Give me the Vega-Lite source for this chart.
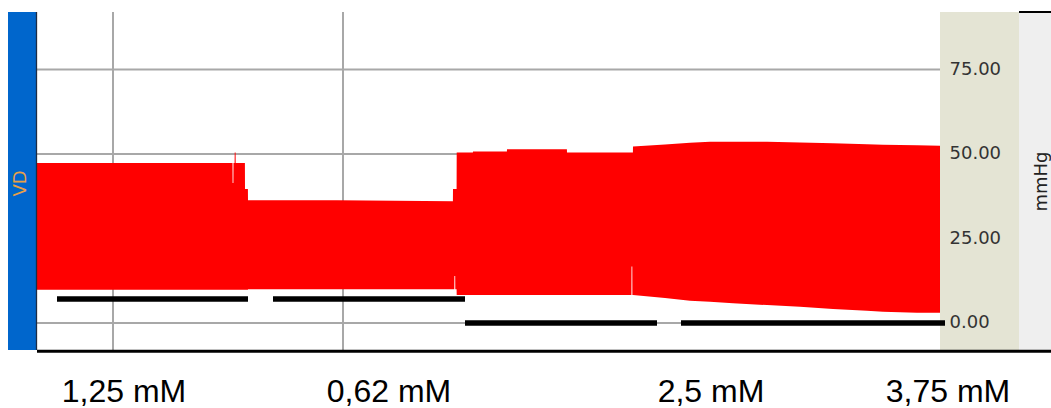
{
  "$schema": "https://vega.github.io/schema/vega-lite/v6.json",
  "width": 903,
  "height": 338,
  "autosize": {"type": "none"},
  "padding": {"left": 37, "top": 12, "right": 111, "bottom": 58},
  "background": "white",
  "config": {
    "view": {"stroke": null},
    "axisY": {
      "orient": "right", "grid": false, "ticks": false, "domain": false,
      "labelFont": "DejaVu Sans", "labelFontSize": 18, "labelColor": "#333333", "labelPadding": 9,
      "titleFont": "DejaVu Sans", "titleFontSize": 18, "titleFontWeight": "normal", "titleColor": "#222222"
    }
  },
  "datasets": {
    "signal": [
      {"t": 0, "hi": 47.3, "lo": 9.8},
      {"t": 195.5, "hi": 47.3, "lo": 9.8},
      {"t": 195.6, "hi": 41.4, "lo": 9.8},
      {"t": 196.4, "hi": 41.4, "lo": 9.8},
      {"t": 196.5, "hi": 47.3, "lo": 9.8},
      {"t": 197.6, "hi": 47.3, "lo": 9.8},
      {"t": 197.7, "hi": 50.4, "lo": 9.8},
      {"t": 198.6, "hi": 50.4, "lo": 9.8},
      {"t": 198.7, "hi": 47.3, "lo": 9.8},
      {"t": 207.9, "hi": 47.3, "lo": 9.8},
      {"t": 208, "hi": 39.6, "lo": 9.8},
      {"t": 210.9, "hi": 39.6, "lo": 9.8},
      {"t": 211, "hi": 36.3, "lo": 10.0},
      {"t": 300, "hi": 36.3, "lo": 10.0},
      {"t": 415.9, "hi": 36.0, "lo": 10.0},
      {"t": 416, "hi": 39.6, "lo": 10.0},
      {"t": 417.3, "hi": 39.6, "lo": 10.0},
      {"t": 417.4, "hi": 39.6, "lo": 13.9},
      {"t": 418.2, "hi": 39.6, "lo": 13.9},
      {"t": 418.3, "hi": 39.6, "lo": 10.0},
      {"t": 419.6, "hi": 39.6, "lo": 10.0},
      {"t": 419.7, "hi": 50.4, "lo": 8.3},
      {"t": 435.9, "hi": 50.4, "lo": 8.3},
      {"t": 436, "hi": 50.7, "lo": 8.3},
      {"t": 469.9, "hi": 50.7, "lo": 8.3},
      {"t": 470, "hi": 51.4, "lo": 8.3},
      {"t": 529.9, "hi": 51.4, "lo": 8.3},
      {"t": 530, "hi": 50.4, "lo": 8.3},
      {"t": 594.4, "hi": 50.4, "lo": 8.3},
      {"t": 594.5, "hi": 50.4, "lo": 16.7},
      {"t": 595.3, "hi": 50.4, "lo": 16.7},
      {"t": 595.4, "hi": 50.4, "lo": 8.3},
      {"t": 595.9, "hi": 50.4, "lo": 8.3},
      {"t": 596, "hi": 52.2, "lo": 8.3},
      {"t": 628, "hi": 52.8, "lo": 7.4},
      {"t": 653, "hi": 53.3, "lo": 6.6},
      {"t": 673, "hi": 53.6, "lo": 6.3},
      {"t": 696, "hi": 53.6, "lo": 5.8},
      {"t": 730, "hi": 53.6, "lo": 5.3},
      {"t": 763, "hi": 53.4, "lo": 4.8},
      {"t": 796, "hi": 53.2, "lo": 4.1},
      {"t": 830, "hi": 52.9, "lo": 3.6},
      {"t": 846, "hi": 52.7, "lo": 3.3},
      {"t": 880, "hi": 52.6, "lo": 3.0},
      {"t": 903, "hi": 52.4, "lo": 3.0}
    ],
    "grid_h": [{"v": 0}, {"v": 25}, {"v": 50}, {"v": 75}],
    "grid_v": [{"t": 76}, {"t": 306}],
    "drugs": [
      {"label": "1,25 mM", "start": 20, "end": 211, "marker": 7.1, "labelT": 87},
      {"label": "0,62 mM", "start": 236, "end": 428, "marker": 7.1, "labelT": 352},
      {"label": "2,5 mM", "start": 428, "end": 620, "marker": 0, "labelT": 674},
      {"label": "3,75 mM", "start": 644, "end": 908, "marker": 0, "labelT": 911}
    ],
    "channel": [{"name": "VD"}]
  },
  "layer": [
    {
      "data": {"values": [{}]},
      "mark": {"type": "rect", "color": "#0066CC"},
      "encoding": {
        "x": {"datum": -29, "type": "quantitative", "scale": {"domain": [0, 903], "nice": false, "zero": false}, "axis": null},
        "x2": {"datum": -0.5}
      }
    },
    {
      "data": {"values": [{}]},
      "mark": {"type": "rect", "color": "#E4E4D4"},
      "encoding": {
        "x": {"datum": 903, "type": "quantitative", "scale": {"domain": [0, 903], "nice": false, "zero": false}, "axis": null},
        "x2": {"datum": 982}
      }
    },
    {
      "data": {"values": [{}]},
      "mark": {"type": "rect", "color": "#EFEFEF"},
      "encoding": {
        "x": {"datum": 982, "type": "quantitative", "scale": {"domain": [0, 903], "nice": false, "zero": false}, "axis": null},
        "x2": {"datum": 1014}
      }
    },
    {
      "data": {"name": "grid_h"},
      "mark": {"type": "rule", "color": "#A8A8A8", "strokeWidth": 2},
      "encoding": {
        "y": {
          "field": "v", "type": "quantitative",
          "scale": {"domain": [-8, 92], "nice": false, "zero": false},
          "axis": {
            "orient": "right", "values": [0, 25, 50, 75], "format": ".2f",
            "title": "mmHg", "titleAngle": 270, "titleX": 101, "titleY": 169,
            "titleAlign": "center", "titleBaseline": "middle", "zindex": 2
          }
        }
      }
    },
    {
      "data": {"name": "grid_v"},
      "mark": {"type": "rule", "color": "#A8A8A8", "strokeWidth": 2},
      "encoding": {
        "x": {"field": "t", "type": "quantitative", "scale": {"domain": [0, 903], "nice": false, "zero": false}, "axis": null}
      }
    },
    {
      "data": {"name": "signal"},
      "mark": {"type": "area", "color": "#FF0000", "interpolate": "linear"},
      "encoding": {
        "x": {"field": "t", "type": "quantitative", "scale": {"domain": [0, 903], "nice": false, "zero": false}, "axis": null},
        "y": {"field": "hi", "type": "quantitative", "scale": {"domain": [-8, 92], "nice": false, "zero": false}},
        "y2": {"field": "lo"}
      }
    },
    {
      "data": {"name": "drugs"},
      "mark": {"type": "rule", "color": "#000000", "strokeWidth": 5.5, "strokeCap": "butt"},
      "encoding": {
        "x": {"field": "start", "type": "quantitative", "scale": {"domain": [0, 903], "nice": false, "zero": false}, "axis": null},
        "x2": {"field": "end"},
        "y": {"field": "marker", "type": "quantitative", "scale": {"domain": [-8, 92], "nice": false, "zero": false}}
      }
    },
    {
      "data": {"values": [{}]},
      "mark": {"type": "rule", "color": "#1C2C44", "strokeWidth": 1.3},
      "encoding": {
        "x": {"datum": -0.5, "type": "quantitative", "scale": {"domain": [0, 903], "nice": false, "zero": false}, "axis": null}
      }
    },
    {
      "data": {"values": [{}]},
      "mark": {"type": "rule", "color": "#000000", "strokeWidth": 3},
      "encoding": {
        "x": {"datum": 0, "type": "quantitative", "scale": {"domain": [0, 903], "nice": false, "zero": false}, "axis": null},
        "x2": {"datum": 1014},
        "y": {"datum": -8.35, "type": "quantitative", "scale": {"domain": [-8, 92], "nice": false, "zero": false}}
      }
    },
    {
      "data": {"values": [{}]},
      "mark": {"type": "rule", "color": "#000000", "strokeWidth": 2},
      "encoding": {
        "x": {"datum": 982, "type": "quantitative", "scale": {"domain": [0, 903], "nice": false, "zero": false}, "axis": null},
        "x2": {"datum": 1014},
        "y": {"datum": 92, "type": "quantitative", "scale": {"domain": [-8, 92], "nice": false, "zero": false}}
      }
    },
    {
      "data": {"name": "channel"},
      "mark": {"type": "text", "font": "DejaVu Sans", "fontSize": 18, "color": "#E8A048", "angle": 270, "align": "center", "baseline": "middle"},
      "encoding": {
        "x": {"datum": -16, "type": "quantitative", "scale": {"domain": [0, 903], "nice": false, "zero": false}, "axis": null},
        "y": {"datum": 41.3, "type": "quantitative", "scale": {"domain": [-8, 92], "nice": false, "zero": false}},
        "text": {"field": "name"}
      }
    },
    {
      "data": {"name": "drugs"},
      "mark": {"type": "text", "font": "Liberation Sans", "fontSize": 32, "color": "#000000", "align": "center", "baseline": "alphabetic"},
      "encoding": {
        "x": {"field": "labelT", "type": "quantitative", "scale": {"domain": [0, 903], "nice": false, "zero": false}, "axis": null},
        "y": {"datum": -23.3, "type": "quantitative", "scale": {"domain": [-8, 92], "nice": false, "zero": false}},
        "text": {"field": "label"}
      }
    }
  ]
}
